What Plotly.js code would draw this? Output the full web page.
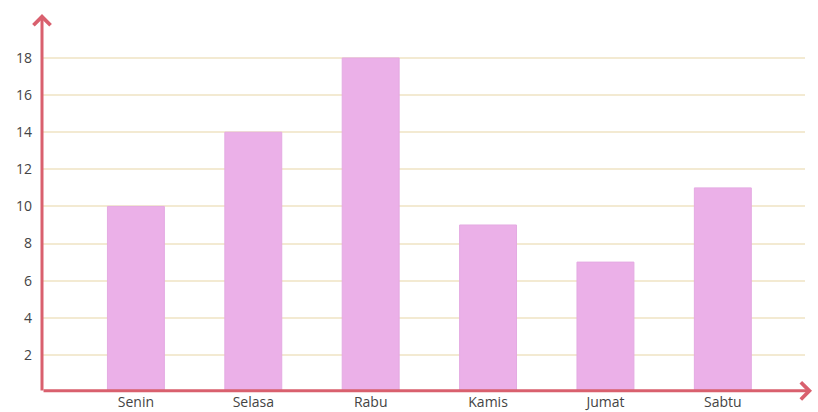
<!DOCTYPE html>
<html>
<head>
<meta charset="utf-8">
<script src="https://cdn.plot.ly/plotly-3.0.1.min.js"></script>
<style>html,body{margin:0;padding:0;background:#fff;}#chart{width:818px;height:412px;}</style>
</head>
<body>
<div id="chart"></div>
<script>
var days = ["Senin", "Selasa", "Rabu", "Kamis", "Jumat", "Sabtu"];
var values = [10, 14, 18, 9, 7, 11];
var yTicks = [2, 4, 6, 8, 10, 12, 14, 16, 18];

var axisColor = "#D9606E";

var trace = {
  type: "bar",
  x: days,
  y: values,
  width: 0.485,
  marker: {color: "#EBB0E8", line: {color: "#E4AAE2", width: 1}},
  hoverinfo: "x+y"
};

var layout = {
  width: 818,
  height: 412,
  margin: {l: 42, r: 13, t: 14, b: 20, pad: 0},
  paper_bgcolor: "#fff",
  plot_bgcolor: "#fff",
  showlegend: false,
  font: {family: "Open Sans, sans-serif", size: 13, color: "#444"},
  xaxis: {
    type: "category",
    range: [-0.80, 5.70],
    showgrid: false,
    zeroline: false,
    showline: false,
    ticks: "",
    tickfont: {size: 14, color: "#444"},
    fixedrange: true
  },
  yaxis: {
    range: [0, 20.37],
    tickvals: yTicks,
    ticktext: yTicks.map(String),
    showgrid: true,
    gridcolor: "#F3EAD2",
    gridwidth: 2,
    zeroline: false,
    showline: false,
    ticks: "",
    ticklabelstandoff: 9,
    tickfont: {size: 14, color: "#444"},
    fixedrange: true
  },
  annotations: [
    {
      xref: "paper", yref: "paper",
      x: 1.0092, y: 0.003,
      axref: "pixel", ayref: "pixel",
      ax: -770, ay: 0,
      text: "", showarrow: true,
      arrowhead: 4, arrowsize: 1.1, arrowwidth: 3, arrowcolor: axisColor,
      standoff: 0
    },
    {
      xref: "paper", yref: "paper",
      x: 0, y: 1,
      axref: "pixel", ayref: "pixel",
      ax: 0, ay: 378,
      text: "", showarrow: true,
      arrowhead: 4, arrowsize: 1.1, arrowwidth: 3, arrowcolor: axisColor,
      standoff: 0
    }
  ]
};

Plotly.newPlot("chart", [trace], layout, {displayModeBar: false, staticPlot: true});
</script>
</body>
</html>
